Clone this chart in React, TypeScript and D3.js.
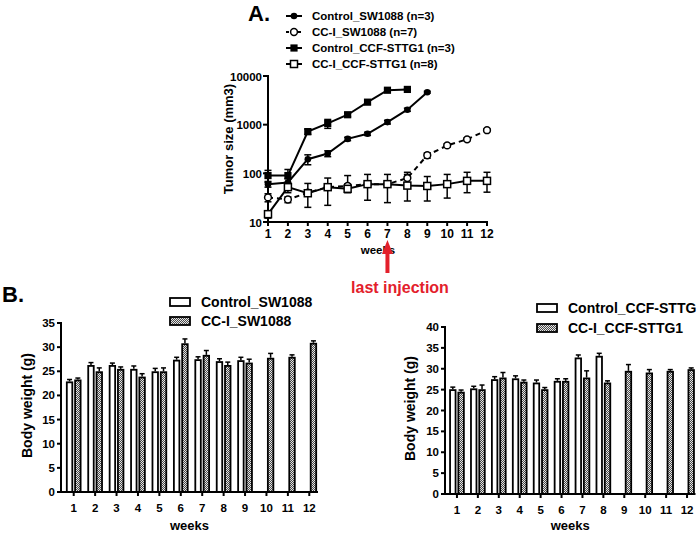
import React from "react";
import * as d3 from "d3";

// ---------- Panel A data (tumor size, mm3) ----------
const topWeeks = [1, 2, 3, 4, 5, 6, 7, 8, 9, 10, 11, 12];
const topYTicks = [10, 100, 1000, 10000];

const controlSW1088 = [60, 65, 195, 255, 510, 650, 1130, 2030, 4650];
const controlSW1088Err = [8, 12, 45, 35, 40, 50, 100, 150, 200];
const ccISW1088 = [32, 29, 40, 52, 55, 60, 60, 80, 235, 375, 500, 770];
const ccISW1088Err = [6, 4, 6, 6, 6, 6, 6, 15, 30, 30, 35, 50];
const controlCCF = [90, 90, 720, 1060, 1600, 2900, 5100, 5300];
const controlCCFErr = [25, 30, 90, 220, 150, 250, 300, 200];
const ccICCF = [14.5, 52, 39, 52, 48, 60, 60, 56, 55, 60, 70, 70];
const ccICCFLo = [12, 40, 20, 22, 40, 28, 25, 27, 27, 31, 40, 41];
const ccICCFHi = [17, 65, 62, 80, 90, 95, 95, 105, 86, 95, 105, 105];

const topLegend = [
  "Control_SW1088 (n=3)",
  "CC-I_SW1088 (n=7)",
  "Control_CCF-STTG1 (n=3)",
  "CC-I_CCF-STTG1 (n=8)",
];

// ---------- Panel B data (body weight, g) ----------
const bwWeeks = ["1", "2", "3", "4", "5", "6", "7", "8", "9", "10", "11", "12"];

const ctrlSW = [22.9, 26.3, 26.3, 25.5, 25.0, 27.4, 27.5, 27.1, 27.3, null, null, null];
const ctrlSWErr = [0.4, 0.5, 0.4, 0.6, 0.6, 0.5, 0.5, 0.5, 0.6, 0, 0, 0];
const cciSW = [23.3, 25.0, 25.5, 23.9, 25.0, 30.8, 28.4, 26.3, 26.8, 27.8, 28.0, 30.9];
const cciSWErr = [0.3, 0.7, 0.4, 0.6, 0.7, 0.9, 0.9, 0.6, 0.7, 0.9, 0.4, 0.4];
const leftTicks = [0, 5, 10, 15, 20, 25, 30, 35];

const ctrlCCF = [25.1, 25.3, 27.5, 27.7, 26.7, 27.1, 32.7, 33.1, null, null, null, null];
const ctrlCCFErr = [0.5, 0.5, 0.6, 0.6, 0.6, 0.5, 0.6, 0.6, 0, 0, 0, 0];
const cciCCF = [24.5, 25.1, 27.9, 26.9, 25.1, 27.1, 27.9, 26.7, 29.5, 29.1, 29.5, 29.9];
const cciCCFErr = [0.4, 1.0, 1.2, 0.4, 0.4, 0.5, 1.6, 0.4, 1.5, 0.7, 0.3, 0.3];
const rightTicks = [0, 5, 10, 15, 20, 25, 30, 35, 40];

const FONT = "'Liberation Sans', Arial, Helvetica, sans-serif";
const RED = "#e3202b";

type Marker = "fcircle" | "ocircle" | "fsquare" | "osquare";

function MarkerShape({ kind, x, y }: { kind: Marker; x: number; y: number }) {
  if (kind === "fcircle") return <circle cx={x} cy={y} r={3.3} fill="#000" />;
  if (kind === "ocircle")
    return <circle cx={x} cy={y} r={3.4} fill="#fff" stroke="#000" strokeWidth={1.5} />;
  if (kind === "fsquare") return <rect x={x - 3.6} y={y - 3.6} width={7.2} height={7.2} fill="#000" />;
  return (
    <rect x={x - 3.5} y={y - 3.5} width={7} height={7} fill="#fff" stroke="#000" strokeWidth={1.5} />
  );
}

function TopChart() {
  const x = d3.scaleLinear().domain([1, 12]).range([268, 487]);
  const y = d3.scaleLog().domain([10, 10000]).range([222, 76]);
  const line = d3
    .line<number>()
    .x((_, i) => x(topWeeks[i]))
    .y((d) => y(d));

  const series = [
    { vals: controlSW1088, lo: controlSW1088.map((v, i) => v - controlSW1088Err[i]), hi: controlSW1088.map((v, i) => v + controlSW1088Err[i]), m: "fcircle" as Marker, dash: undefined },
    { vals: ccISW1088, lo: ccISW1088.map((v, i) => v - ccISW1088Err[i]), hi: ccISW1088.map((v, i) => v + ccISW1088Err[i]), m: "ocircle" as Marker, dash: "5,4" },
    { vals: controlCCF, lo: controlCCF.map((v, i) => v - controlCCFErr[i]), hi: controlCCF.map((v, i) => v + controlCCFErr[i]), m: "fsquare" as Marker, dash: undefined },
    { vals: ccICCF, lo: ccICCFLo, hi: ccICCFHi, m: "osquare" as Marker, dash: undefined },
  ];

  return (
    <g fontFamily={FONT} fontWeight="bold">
      <text x={248} y={21} fontSize={22}>A.</text>
      {/* legend */}
      {topLegend.map((t, i) => {
        const ly = 16 + i * 16;
        const s = series[i];
        return (
          <g key={t}>
            <line x1={286} x2={302} y1={ly} y2={ly} stroke="#000" strokeWidth={2} strokeDasharray={s.dash ? "3,3" : undefined} />
            <MarkerShape kind={s.m} x={294} y={ly} />
            <text x={312} y={ly + 4} fontSize={11.5}>{t}</text>
          </g>
        );
      })}
      {/* axes */}
      <line x1={268} x2={268} y1={75} y2={223} stroke="#000" strokeWidth={2} />
      <line x1={267} x2={488} y1={222} y2={222} stroke="#000" strokeWidth={2} />
      {topYTicks.map((t) => (
        <g key={t}>
          <line x1={263} x2={268} y1={y(t)} y2={y(t)} stroke="#000" strokeWidth={2} />
          <text x={262} y={y(t) + 4.5} fontSize={11.5} textAnchor="end">{t}</text>
        </g>
      ))}
      {topWeeks.map((w) => (
        <g key={w}>
          <line x1={x(w)} x2={x(w)} y1={222} y2={226} stroke="#000" strokeWidth={2} />
          <text x={x(w)} y={238} fontSize={12} textAnchor="middle">{w}</text>
        </g>
      ))}
      <text x={378} y={254} fontSize={11.5} textAnchor="middle">weeks</text>
      <text transform={`translate(233,139) rotate(-90)`} fontSize={13} textAnchor="middle">Tumor size (mm3)</text>
      {/* lines */}
      {series.map((s, i) => (
        <path key={"l" + i} d={line(s.vals) || ""} fill="none" stroke="#000" strokeWidth={2} strokeDasharray={s.dash} />
      ))}
      {/* error bars */}
      {series.map((s, i) =>
        s.vals.map((v, j) => {
          const xx = x(topWeeks[j]);
          const y1 = y(Math.max(s.lo[j], 10));
          const y2 = y(s.hi[j]);
          return (
            <g key={"e" + i + "-" + j} stroke="#000" strokeWidth={1.5}>
              <line x1={xx} x2={xx} y1={y1} y2={y2} />
              <line x1={xx - 3.5} x2={xx + 3.5} y1={y1} y2={y1} />
              <line x1={xx - 3.5} x2={xx + 3.5} y1={y2} y2={y2} />
            </g>
          );
        })
      )}
      {/* markers */}
      {series.map((s, i) =>
        s.vals.map((v, j) => <MarkerShape key={"m" + i + "-" + j} kind={s.m} x={x(topWeeks[j])} y={y(v)} />)
      )}
      {/* red arrow */}
      <line x1={x(7)} x2={x(7)} y1={250} y2={273} stroke={RED} strokeWidth={4} />
      <path d={`M${x(7)},240 L${x(7) - 5.5},254 L${x(7) + 5.5},254 Z`} fill={RED} />
      <text x={400} y={293} fontSize={16} fill={RED} textAnchor="middle">last injection</text>
    </g>
  );
}

type BarProps = {
  axisX: number;
  range: [number, number];
  y0: number;
  yTop: number;
  yMax: number;
  ticks: number[];
  a: (number | null)[];
  aErr: number[];
  b: (number | null)[];
  bErr: number[];
  labels: [string, string];
  legendX: number;
  legendY: number;
  legendGap: number;
  yLabelX: number;
};

function BarChart(p: BarProps) {
  const xb = d3.scaleBand<string>().domain(bwWeeks).range(p.range).paddingInner(0).paddingOuter(0);
  const inner = d3.scaleBand<number>().domain([0, 1]).range([-7.8, 7.8]).paddingInner(0.12);
  const y = d3.scaleLinear().domain([0, p.yMax]).range([p.y0, p.yTop]);
  const bw = inner.bandwidth();
  const groups = [
    { vals: p.a, err: p.aErr, fill: "#fff" },
    { vals: p.b, err: p.bErr, fill: "url(#checker)" },
  ];
  const xEnd = p.range[1] - 2;
  const midX = (p.axisX + xEnd) / 2;
  return (
    <g fontFamily={FONT} fontWeight="bold">
      {groups.map((g, gi) =>
        g.vals.map((v, i) => {
          if (v == null) return null;
          const cx = (xb(bwWeeks[i]) as number) + xb.bandwidth() / 2;
          const bx = cx + (inner(gi) as number);
          const top = y(v);
          const et = y(v + g.err[i]);
          return (
            <g key={gi + "-" + i}>
              <line x1={bx + bw / 2} x2={bx + bw / 2} y1={top} y2={et} stroke="#000" strokeWidth={1.5} />
              <line x1={bx + bw / 2 - 2.5} x2={bx + bw / 2 + 2.5} y1={et} y2={et} stroke="#000" strokeWidth={1.5} />
              <rect x={bx + 0.9} y={top + 0.9} width={bw - 1.8} height={p.y0 - top - 0.9} fill={g.fill} stroke="#000" strokeWidth={1.8} />
            </g>
          );
        })
      )}
      <line x1={p.axisX} x2={p.axisX} y1={y(p.yMax) - 1} y2={p.y0 + 1} stroke="#000" strokeWidth={2} />
      <line x1={p.axisX - 1} x2={xEnd} y1={p.y0} y2={p.y0} stroke="#000" strokeWidth={2} />
      {p.ticks.map((t) => (
        <g key={t}>
          <line x1={p.axisX - 4} x2={p.axisX} y1={y(t)} y2={y(t)} stroke="#000" strokeWidth={2} />
          <text x={p.axisX - 6} y={y(t) + 4} fontSize={11.5} textAnchor="end">{t}</text>
        </g>
      ))}
      {bwWeeks.map((w) => {
        const cx = (xb(w) as number) + xb.bandwidth() / 2;
        return (
          <g key={w}>
            <line x1={cx} x2={cx} y1={p.y0} y2={p.y0 + 4} stroke="#000" strokeWidth={2} />
            <text x={cx} y={p.y0 + 20} fontSize={11.5} textAnchor="middle">{w}</text>
          </g>
        );
      })}
      <text x={midX} y={530} fontSize={13} textAnchor="middle">weeks</text>
      <text transform={`translate(${p.yLabelX},${(p.y0 + y(p.yMax)) / 2 - 2}) rotate(-90)`} fontSize={14} textAnchor="middle">
        Body weight  (g)
      </text>
      {p.labels.map((l, i) => (
        <g key={l}>
          <rect x={p.legendX} y={p.legendY + i * p.legendGap - 4} width={20} height={8} fill={groups[i].fill} stroke="#000" strokeWidth={1.8} />
          <text x={p.legendX + 31} y={p.legendY + i * p.legendGap + 5} fontSize={14}>{l}</text>
        </g>
      ))}
    </g>
  );
}

export default function App() {
  return (
    <svg width={700} height={533} style={{ position: "absolute", left: 0, top: 0, background: "#fff" }}>
      <defs>
        <pattern id="checker" width={2} height={2} patternUnits="userSpaceOnUse">
          <rect width={2} height={2} fill="#4a4a4a" />
          <rect width={1} height={1} fill="#e6e6e6" />
          <rect x={1} y={1} width={1} height={1} fill="#e6e6e6" />
        </pattern>
      </defs>
      <rect width={700} height={533} fill="#fff" />
      <TopChart />
      <text x={2} y={302} fontSize={22} fontFamily={FONT} fontWeight="bold">B.</text>
      <BarChart
        axisX={61}
        range={[63, 320]}
        y0={492}
        yTop={323}
        yMax={35}
        ticks={leftTicks}
        a={ctrlSW}
        aErr={ctrlSWErr}
        b={cciSW}
        bErr={cciSWErr}
        labels={["Control_SW1088", "CC-I_SW1088"]}
        legendX={170}
        legendY={302}
        legendGap={19}
        yLabelX={32}
      />
      <BarChart
        axisX={445}
        range={[446.5, 697.5]}
        y0={494}
        yTop={327}
        yMax={40}
        ticks={rightTicks}
        a={ctrlCCF}
        aErr={ctrlCCFErr}
        b={cciCCF}
        bErr={cciCCFErr}
        labels={["Control_CCF-STTG", "CC-I_CCF-STTG1"]}
        legendX={537}
        legendY={308}
        legendGap={20}
        yLabelX={415}
      />
    </svg>
  );
}
